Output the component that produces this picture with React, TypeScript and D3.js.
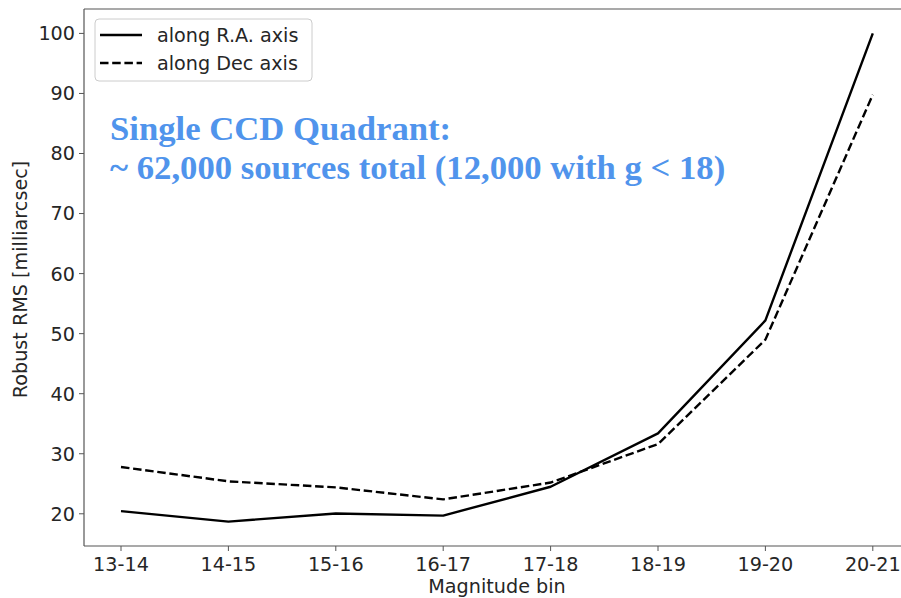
import React from "react";
import * as d3 from "d3";

const categories = ["13-14", "14-15", "15-16", "16-17", "17-18", "18-19", "19-20", "20-21"];
const raValues = [20.45, 18.7, 20.05, 19.7, 24.5, 33.4, 52.2, 100.0];
const decValues = [27.8, 25.4, 24.4, 22.4, 25.2, 31.6, 49.0, 89.8];
const yTicks = [20, 30, 40, 50, 60, 70, 80, 90, 100];
const seriesNames = ["along R.A. axis", "along Dec axis"];
const annotationLines = ["Single CCD Quadrant:", "~ 62,000 sources total (12,000 with g < 18)"];

const W = 901;
const H = 598;
const left = 84;
const top = 9;
const bottom = 546;
const step = 107.4;
const firstX = 121;
const fs = 19.2;

export default function App() {
  const x = d3
    .scaleLinear()
    .domain([-0.35, categories.length - 1 + 0.35])
    .range([firstX - 0.35 * step, firstX + (categories.length - 1 + 0.35) * step]);
  const allVals = [...raValues, ...decValues];
  const ymin = d3.min(allVals)!;
  const ymax = d3.max(allVals)!;
  const pad = (ymax - ymin) * 0.05;
  const y = d3.scaleLinear().domain([ymin - pad, ymax + pad]).range([bottom, top]);

  const line = d3
    .line<number>()
    .x((_, i) => x(i))
    .y((d) => y(d));

  const textColor = "#262626";
  const spine = "#555";
  const font = "DejaVu Sans, sans-serif";

  return (
    <svg
      width={W}
      height={H}
      style={{ position: "absolute", left: 0, top: 0, background: "#fff" }}
      fontFamily={font}
    >
      <rect x={0} y={0} width={W} height={H} fill="#fff" />
      {/* spines */}
      <line x1={left} x2={left} y1={top} y2={bottom} stroke={spine} strokeWidth={1.2} />
      <line x1={left} x2={W} y1={bottom} y2={bottom} stroke={spine} strokeWidth={1.2} />
      <line x1={left} x2={W} y1={top} y2={top} stroke={spine} strokeWidth={1.2} />

      {/* y ticks */}
      {yTicks.map((t) => (
        <g key={t}>
          <line x1={left - 5} x2={left} y1={y(t)} y2={y(t)} stroke={spine} strokeWidth={1} />
          <text x={left - 9} y={y(t)} dy="0.36em" textAnchor="end" fontSize={fs} fill={textColor}>
            {t}
          </text>
        </g>
      ))}
      {/* x ticks */}
      {categories.map((c, i) => (
        <g key={c}>
          <line x1={x(i)} x2={x(i)} y1={bottom} y2={bottom + 5} stroke={spine} strokeWidth={1} />
          <text x={x(i)} y={bottom + 24.5} textAnchor="middle" fontSize={fs} fill={textColor}>
            {c}
          </text>
        </g>
      ))}
      <text x={497} y={593} textAnchor="middle" fontSize={fs} fill={textColor}>
        Magnitude bin
      </text>
      <text
        transform={`translate(27, ${(top + bottom) / 2 + 2}) rotate(-90)`}
        textAnchor="middle"
        fontSize={fs}
        fill={textColor}
      >
        Robust RMS [milliarcsec]
      </text>

      {/* lines */}
      <path d={line(raValues)!} fill="none" stroke="#000" strokeWidth={2.4} strokeLinejoin="round" />
      <path
        d={line(decValues)!}
        fill="none"
        stroke="#000"
        strokeWidth={2.4}
        strokeDasharray="8.5,3.7"
      />

      {/* legend */}
      <rect x={95} y={19} width={217} height={62} rx={4} fill="#fff" stroke="#ccc" strokeWidth={1} />
      <line x1={100} x2={142} y1={35} y2={35} stroke="#000" strokeWidth={2.4} />
      <line x1={100} x2={142} y1={63} y2={63} stroke="#000" strokeWidth={2.4} strokeDasharray="8.5,3.7" />
      <text x={157} y={35} dy="0.36em" fontSize={fs} fill={textColor}>
        {seriesNames[0]}
      </text>
      <text x={157} y={63} dy="0.36em" fontSize={fs} fill={textColor}>
        {seriesNames[1]}
      </text>

      {/* annotation */}
      {annotationLines.map((t, i) => (
        <text
          key={i}
          x={110}
          y={139.5 + i * 39}
          fontFamily="Liberation Serif, Times New Roman, serif"
          fontWeight="bold"
          fontSize={34.7}
          fill="#5094ec"
        >
          {t}
        </text>
      ))}
    </svg>
  );
}
